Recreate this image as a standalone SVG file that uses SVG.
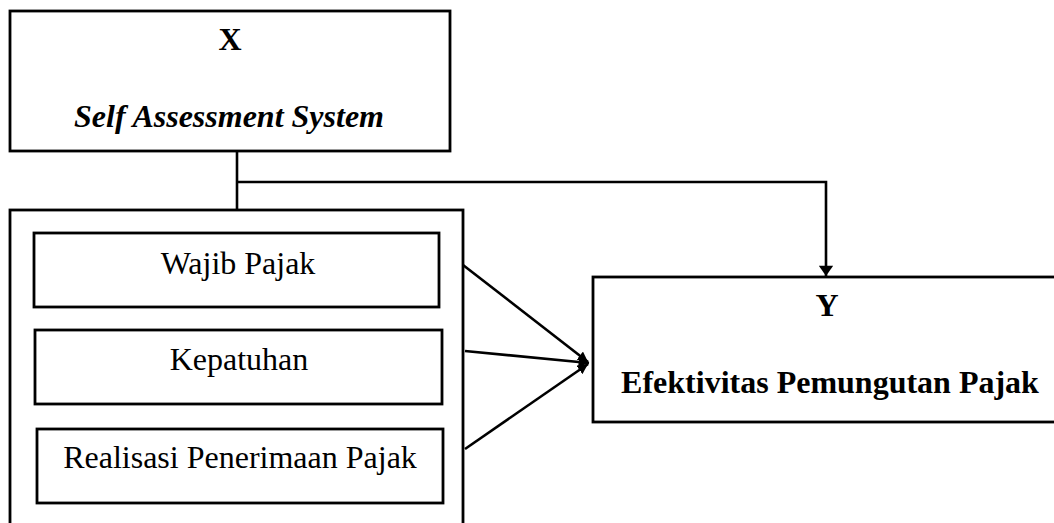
<svg xmlns="http://www.w3.org/2000/svg" width="1054" height="523" viewBox="0 0 1054 523">
<defs>
<style>
.box{fill:#fff;stroke:#000;stroke-width:2.8}
.ln{fill:none;stroke:#000;stroke-width:2.6}
.t{font-family:"Liberation Serif","Times New Roman",serif;font-size:32px;fill:#000;text-anchor:middle}
.b{font-weight:bold}
.bi{font-weight:bold;font-style:italic}
</style>
<marker id="ah" viewBox="0 0 10 14" refX="10" refY="7" markerWidth="7" markerHeight="5.5" markerUnits="strokeWidth" orient="auto">
<path d="M0,0 L10,7 L0,14 z" fill="#000"/>
</marker>
<marker id="ah2" viewBox="0 0 10 10" refX="10" refY="5" markerWidth="4" markerHeight="4" markerUnits="strokeWidth" orient="auto">
<path d="M0,0 L10,5 L0,10 z" fill="#000"/>
</marker>
</defs>
<rect width="1054" height="523" fill="#fff"/>
<g id="node-x">
<rect class="box" x="10" y="11" width="440" height="140"/>
<text class="t b" x="230" y="50">X</text>
<text class="t bi" x="229" y="127">Self Assessment System</text>
</g>
<g id="node-group">
<rect class="box" x="10" y="210" width="453" height="330"/>
</g>
<g id="node-wajib">
<rect class="box" x="34" y="233" width="405" height="74"/>
<text class="t" x="238" y="274">Wajib Pajak</text>
</g>
<g id="node-kepatuhan">
<rect class="box" x="35" y="330" width="407" height="74"/>
<text class="t" x="239" y="370">Kepatuhan</text>
</g>
<g id="node-realisasi">
<rect class="box" x="37" y="429" width="406" height="74"/>
<text class="t" x="240" y="468">Realisasi Penerimaan Pajak</text>
</g>
<g id="node-y">
<rect class="box" x="593" y="277" width="470" height="145"/>
<text class="t b" x="827" y="316">Y</text>
<text class="t b" x="830" y="393">Efektivitas Pemungutan Pajak</text>
</g>
<g id="connectors">
<path class="ln" d="M237,151 V210"/>
<path class="ln" d="M237,182 H826 V276" marker-end="url(#ah)"/>
<path class="ln" d="M463,265 L588,362" marker-end="url(#ah2)"/>
<path class="ln" d="M465,351 L589,363" marker-end="url(#ah2)"/>
<path class="ln" d="M465,449 L588,364" marker-end="url(#ah2)"/>
</g>
</svg>
